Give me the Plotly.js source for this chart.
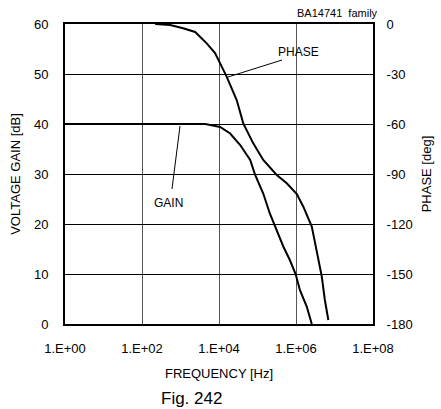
<!DOCTYPE html>
<html>
<head>
<meta charset="utf-8">
<script src="https://cdn.plot.ly/plotly-3.0.1.min.js"></script>
<style>html,body{margin:0;padding:0;background:#fff;}#chart{width:441px;height:409px;}</style>
</head>
<body>
<div id="chart"></div>
<script>
// Gain data (Hz, dB)
const gainFreq = [1, 4400, 10700, 19500, 35500, 64600, 87000, 141000, 209000, 316000, 468000, 692000, 977000, 1260000, 1900000, 2570000];
const gainDb   = [40, 40, 39.4, 38.1, 35.8, 32.8, 29.8, 26.1, 22.1, 18.8, 15.5, 12.8, 10, 6.8, 3.5, 0];
// Phase data (Hz, deg)
const phaseFreq = [220, 540, 1170, 2400, 4800, 7900, 10700, 15800, 28800, 42700, 77600, 141000, 316000, 575000, 1050000, 1550000, 2570000, 3470000, 4680000, 5620000, 6920000];
const phaseDeg  = [0, -0.6, -2.6, -4.8, -11.6, -17.4, -23.6, -31.6, -45.6, -59.6, -71.6, -81.6, -90.6, -95.6, -102, -109.6, -121.6, -137.6, -151.6, -165.6, -177.6];
// Tick labels
const xTickVals = [1, 1e2, 1e4, 1e6, 1e8];
const xTickText = ["1.E+00", "1.E+02", "1.E+04", "1.E+06", "1.E+08"];
const yTickVals = [0, 10, 20, 30, 40, 50, 60];
const y2TickVals = [-180, -150, -120, -90, -60, -30, 0];
const y2TickText = ["-180", "-150", "-120", "-90", "-60", "-30", "0"];

const font = "Liberation Sans, Arial, sans-serif";

const traces = [
  {x: gainFreq, y: gainDb, type: "scatter", mode: "lines", line: {color: "#000", width: 2}, yaxis: "y", hoverinfo: "skip"},
  {x: phaseFreq, y: phaseDeg, type: "scatter", mode: "lines", line: {color: "#000", width: 2}, yaxis: "y2", hoverinfo: "skip"}
];

const layout = {
  width: 441, height: 409,
  margin: {l: 65, r: 68, t: 24, b: 85},
  paper_bgcolor: "#fff", plot_bgcolor: "#fff",
  showlegend: false,
  font: {family: font, size: 13, color: "#000"},
  xaxis: {
    type: "log", range: [0, 8],
    tickvals: xTickVals, ticktext: xTickText,
    ticks: "outside", ticklen: 11, tickcolor: "rgba(0,0,0,0)",
    showgrid: true, gridcolor: "#555", gridwidth: 1,
    showline: true, linecolor: "#000", linewidth: 2, mirror: true,
    zeroline: false,
    tickfont: {family: font, size: 13},
    title: {text: "FREQUENCY [Hz]", font: {family: font, size: 13}, standoff: 14}
  },
  yaxis: {
    range: [0, 60], tickvals: yTickVals,
    ticks: "outside", ticklen: 12, tickcolor: "rgba(0,0,0,0)",
    showgrid: true, gridcolor: "#000", gridwidth: 1,
    showline: true, linecolor: "#000", linewidth: 2, mirror: true,
    zeroline: false,
    tickfont: {family: font, size: 13},
    title: {text: "VOLTAGE GAIN [dB]", font: {family: font, size: 13}, standoff: 10}
  },
  yaxis2: {
    range: [-180, 0], tickvals: y2TickVals, ticktext: y2TickText,
    overlaying: "y", side: "right",
    ticks: "outside", ticklen: 9, tickcolor: "rgba(0,0,0,0)",
    showgrid: false, zeroline: false,
    showline: true, linecolor: "#000", linewidth: 2,
    tickfont: {family: font, size: 13},
    title: {text: "PHASE [deg]", font: {family: font, size: 13}, standoff: 10}
  },
  annotations: [
    {text: "BA14741  family", xref: "paper", yref: "paper", x: 1.022, y: 1.0, xanchor: "right", yanchor: "bottom", yshift: 3, showarrow: false, font: {family: font, size: 11}},
    {text: "PHASE", xref: "paper", yref: "paper", x: (298 - 65) / 308, y: (324 - 52) / 300, xanchor: "center", yanchor: "middle", showarrow: false, font: {family: font, size: 12}},
    {text: "GAIN", xref: "paper", yref: "paper", x: (168 - 65) / 308, y: (324 - 203) / 300, xanchor: "center", yanchor: "middle", showarrow: false, font: {family: font, size: 12}},
    {text: "Fig. 242", xref: "paper", yref: "paper", x: (191 - 65) / 308, y: (324 - 398) / 300, xanchor: "center", yanchor: "middle", showarrow: false, font: {family: font, size: 17}}
  ],
  shapes: [
    {type: "line", xref: "paper", yref: "paper", x0: (282 - 65) / 308, y0: (324 - 60) / 300, x1: (228 - 65) / 308, y1: (324 - 77) / 300, line: {color: "#000", width: 1}},
    {type: "line", xref: "paper", yref: "paper", x0: (172 - 65) / 308, y0: (324 - 189) / 300, x1: (180 - 65) / 308, y1: (324 - 126) / 300, line: {color: "#000", width: 1}}
  ]
};

Plotly.newPlot("chart", traces, layout, {staticPlot: true, displayModeBar: false});
</script>
</body>
</html>
